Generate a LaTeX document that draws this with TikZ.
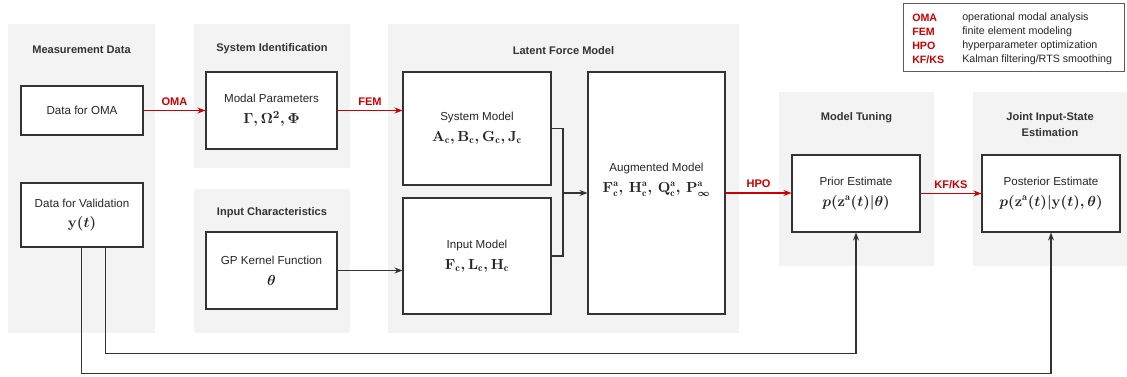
\documentclass[tikz,border=0pt]{standalone}
\usepackage{fontspec}
\setsansfont{Liberation Sans}
\usetikzlibrary{arrows.meta,calc}
\definecolor{panelgray}{RGB}{243,243,243}
\definecolor{linegray}{RGB}{51,51,51}
\definecolor{lred}{RGB}{204,0,0}
\newcommand\mline[1]{{\fontsize{11}{13}\selectfont\boldmath$#1$}}
\begin{document}
\begin{tikzpicture}[x=0.75pt,y=-0.75pt,
  panel/.style={fill=panelgray,draw=none},
  box/.style={draw=linegray,line width=0.8pt,fill=white,rectangle,align=center,
    font=\sffamily\fontsize{8.7}{13}\selectfont,inner sep=0pt,text=black!85},
  txt/.style={align=center,font=\sffamily\fontsize{8.7}{13}\selectfont,inner sep=0pt,text=black!85},
  ptitle/.style={font=\sffamily\bfseries\fontsize{8.3}{12.5}\selectfont,align=center,text=black!80},
  conn/.style={draw=linegray,line width=0.8pt,-{Stealth[length=6pt,width=4.5pt]}},
  rconn/.style={conn,draw=lred,color=lred},
  plain/.style={draw=linegray,line width=0.8pt},
  alabel/.style={font=\sffamily\bfseries\fontsize{8.3}{10}\selectfont,text=lred,inner sep=0pt,above=3.5pt},
  leg/.style={font=\sffamily\fontsize{8}{10}\selectfont,anchor=west,inner sep=0pt,text=black!85},
  legab/.style={leg,font=\sffamily\bfseries\fontsize{8}{10}\selectfont,text=lred}
]
\useasboundingbox (0,0) rectangle (1127,377);
\fill[white] (0,0) rectangle (1127,377);

% panels
\fill[panel] (8,24) rectangle (155,333);
\fill[panel] (194,24) rectangle (350,168);
\fill[panel] (194,189) rectangle (350,333);
\fill[panel] (388,24) rectangle (739,333);
\fill[panel] (779,92) rectangle (934,266);
\fill[panel] (973,92) rectangle (1127,266);

% panel titles
\node[ptitle] (tmeas) at (81.5,50) {Measurement Data};
\node[ptitle] (tsysid) at (272,49) {System Identification};
\node[ptitle] (tinch) at (272,213) {Input Characteristics};
\node[ptitle] (tlfm) at (563.5,51) {Latent Force Model};
\node[ptitle] (ttune) at (856.5,118) {Model Tuning};
\node[ptitle] (tjoint) at (1050,124.5) {Joint Input-State\\Estimation};

% boxes
\node[box,minimum width=91.5pt,minimum height=36.75pt] (oma) at (82,110.5) {Data for OMA};
\node[box,minimum width=98.25pt,minimum height=57.75pt] (modal) at (271.5,110.5)
  {Modal Parameters\\[2.5pt]\mline{\Gamma,\Omega^2,\Phi}};
\node[box,minimum width=91.5pt,minimum height=48pt] (val) at (82,215)
  {Data for Validation\\[2.5pt]\mline{\mathbf{y}(t)}};
\node[box,minimum width=98.25pt,minimum height=57.75pt] (gp) at (271.5,270.5)
  {GP Kernel Function\\[2.5pt]\mline{\theta}};
\node[box,minimum width=111pt,minimum height=84.75pt] (sys) at (477,128.5)
  {System Model\\[2.5pt]\mline{\mathbf{A}_\mathrm{c},\mathbf{B}_\mathrm{c},\mathbf{G}_\mathrm{c},\mathbf{J}_\mathrm{c}}};
\node[box,minimum width=111pt,minimum height=87pt] (inp) at (477,256)
  {Input Model\\[2.5pt]\mline{\mathbf{F}_\mathrm{c},\mathbf{L}_\mathrm{c},\mathbf{H}_\mathrm{c}}};
\node[box,minimum width=102.75pt,minimum height=181.5pt] (aug) at (656.5,193) {};
\node[txt] (augt) at (656.5,180)
  {Augmented Model\\[2.5pt]{\fontsize{10.5}{13}\selectfont\boldmath$\mathbf{F}^\mathrm{a}_\mathrm{c},\,\mathbf{H}^\mathrm{a}_\mathrm{c},\,\mathbf{Q}^\mathrm{a}_\mathrm{c},\,\mathbf{P}^\mathrm{a}_\infty$}};
\node[box,minimum width=96pt,minimum height=57.75pt] (prior) at (856,193.5)
  {Prior Estimate\\[2.5pt]\mline{p(\mathbf{z}^\mathrm{a}(t)|\theta)}};
\node[box,minimum width=103.5pt,minimum height=57.75pt] (post) at (1051,193.5)
  {Posterior Estimate\\[2.5pt]\mline{p(\mathbf{z}^\mathrm{a}(t)|\mathbf{y}(t),\theta)}};

% connectors
\draw[rconn] (oma.east) -- node[alabel] {OMA} (modal.west);
\draw[rconn] (modal.east) -- node[alabel] {FEM} (modal.east -| sys.west);
\draw[conn] (gp.east) -- (gp.east -| inp.west);
\coordinate (mj) at (563,193);
\draw[plain] (sys.east) -| (mj) |- (inp.east);
\draw[conn] (mj) -- (aug.west);
\draw[rconn] (aug.east) -- node[alabel] {HPO} (aug.east -| prior.west);
\draw[rconn] (prior.east) -- node[alabel] {KF/KS} (prior.east -| post.west);
\draw[conn] ($(val.south west)+(85,0)$) -- ++(0,106) -| (prior.south);
\draw[conn] ($(val.south west)+(61,0)$) -- ++(0,126) -| (post.south);

% legend
\node[draw=linegray!80,line width=0.6pt,fill=white,minimum width=165.75pt,minimum height=51pt,inner sep=0pt] (legend) at (1013.5,37) {};
\node[legab] (l1a) at (912,18) {OMA};
\node[leg] (l1b) at (962,18) {operational modal analysis};
\node[legab] (l2a) at (912,32) {FEM};
\node[leg] (l2b) at (962,32) {finite element modeling};
\node[legab] (l3a) at (912,45.5) {HPO};
\node[leg] (l3b) at (962,45.5) {hyperparameter optimization};
\node[legab] (l4a) at (912,59.5) {KF/KS};
\node[leg] (l4b) at (962,59.5) {Kalman filtering/RTS smoothing};
\end{tikzpicture}
\end{document}
